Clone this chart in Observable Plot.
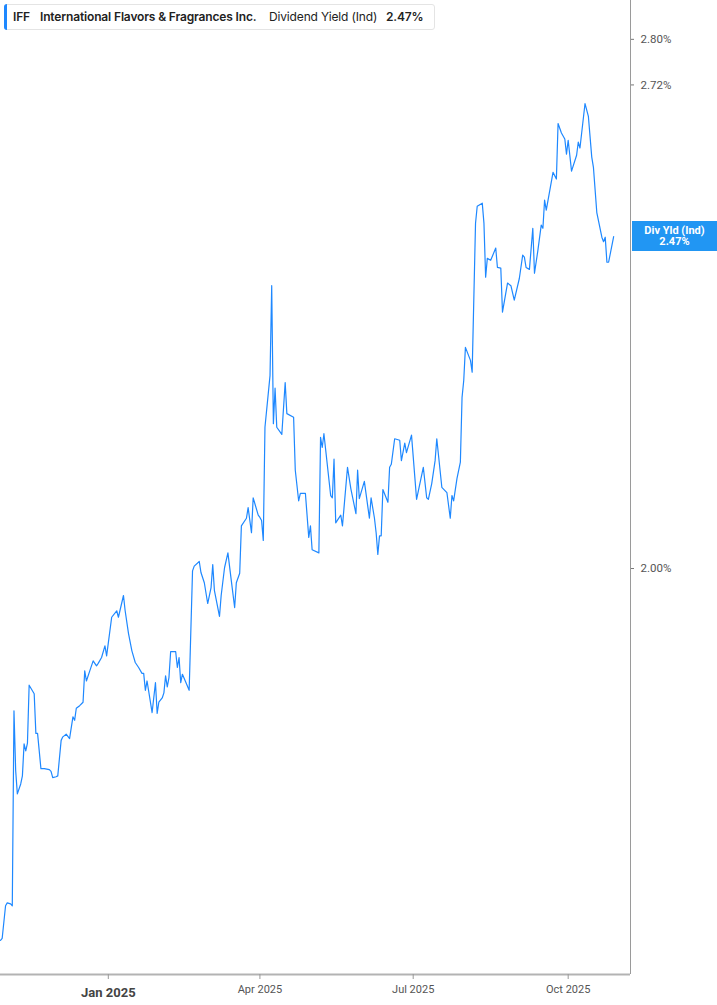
<!DOCTYPE html>
<html>
<head>
<meta charset="utf-8">
<script src="https://cdn.jsdelivr.net/npm/d3@7"></script>
<script src="https://cdn.jsdelivr.net/npm/@observablehq/plot@0.6"></script>
<style>
  html, body { margin: 0; padding: 0; background: #fff; }
  #wrap { position: relative; width: 717px; height: 1005px; overflow: hidden; }
  #title { position: absolute; left: 4px; top: 4px; width: 431px; height: 26px; background: #fff;
           border: 1px solid #e4e4e4; border-radius: 3px; box-sizing: border-box;
           font-family: Inter, "Noto Sans", sans-serif; font-size: 12px; color: #222; letter-spacing: -0.15px; }
  #title .bar { position: absolute; left: -1px; top: -1px; bottom: -1px; width: 3px; background: #1e88ff; border-radius: 3px 0 0 3px; }
  #title span.t { position: absolute; top: 5px; line-height: 14px; white-space: nowrap; }
  #tag { position: absolute; left: 632px; width: 85px; height: 30px; background: #2196f3; color: #fff;
         font-family: Roboto, "Noto Sans", sans-serif; font-weight: bold; font-size: 11px; line-height: 11px;
         text-align: center; box-sizing: border-box; padding-top: 4px; }
</style>
</head>
<body>
<div id="wrap"></div>
<script>
// ---- data ----
const dates = [
"2024-10-29","2024-10-30","2024-11-01","2024-11-02","2024-11-04","2024-11-05","2024-11-06","2024-11-07","2024-11-08","2024-11-10",
"2024-11-11","2024-11-12","2024-11-13","2024-11-14","2024-11-15","2024-11-18","2024-11-19","2024-11-20","2024-11-22","2024-11-24",
"2024-11-27","2024-11-28","2024-11-29","2024-12-01","2024-12-02","2024-12-04","2024-12-05","2024-12-07","2024-12-09","2024-12-11",
"2024-12-12","2024-12-13","2024-12-15","2024-12-17","2024-12-18","2024-12-19","2024-12-21","2024-12-23","2024-12-25","2024-12-26",
"2024-12-28","2024-12-30","2024-12-31","2025-01-03","2025-01-06","2025-01-07","2025-01-10","2025-01-11","2025-01-13","2025-01-15",
"2025-01-17","2025-01-19","2025-01-21","2025-01-22","2025-01-23","2025-01-24","2025-01-27","2025-01-29","2025-01-30","2025-01-31",
"2025-02-02","2025-02-03","2025-02-04","2025-02-05","2025-02-06","2025-02-07","2025-02-10","2025-02-11","2025-02-12","2025-02-13",
"2025-02-14","2025-02-18","2025-02-20","2025-02-21","2025-02-24","2025-02-25","2025-02-27","2025-03-01","2025-03-03","2025-03-04",
"2025-03-05","2025-03-08","2025-03-09","2025-03-11","2025-03-13","2025-03-15","2025-03-17","2025-03-18","2025-03-20","2025-03-21",
"2025-03-24","2025-03-25","2025-03-27","2025-03-28","2025-03-31","2025-04-01","2025-04-02","2025-04-03","2025-04-04","2025-04-07",
"2025-04-08","2025-04-09","2025-04-10","2025-04-11","2025-04-14","2025-04-16","2025-04-17","2025-04-21","2025-04-22","2025-04-24",
"2025-04-25","2025-04-28","2025-04-30","2025-05-01","2025-05-02","2025-05-06","2025-05-07","2025-05-08","2025-05-09","2025-05-13",
"2025-05-14","2025-05-15","2025-05-16","2025-05-19","2025-05-20","2025-05-23","2025-05-25","2025-05-28","2025-05-29","2025-05-30",
"2025-06-02","2025-06-05","2025-06-06","2025-06-08","2025-06-09","2025-06-10","2025-06-11","2025-06-12","2025-06-13","2025-06-16",
"2025-06-17","2025-06-18","2025-06-20","2025-06-23","2025-06-24","2025-06-26","2025-06-27","2025-06-30","2025-07-03","2025-07-07",
"2025-07-09","2025-07-10","2025-07-12","2025-07-14","2025-07-15","2025-07-18","2025-07-21","2025-07-23","2025-07-24","2025-07-25",
"2025-07-27","2025-07-29","2025-07-30","2025-07-31","2025-08-01","2025-08-04","2025-08-05","2025-08-07","2025-08-08","2025-08-11",
"2025-08-12","2025-08-13","2025-08-14","2025-08-16","2025-08-19","2025-08-20","2025-08-22","2025-08-23","2025-08-26","2025-08-28",
"2025-08-30","2025-09-02","2025-09-04","2025-09-05","2025-09-06","2025-09-08","2025-09-10","2025-09-11","2025-09-13","2025-09-15",
"2025-09-16","2025-09-17","2025-09-18","2025-09-22","2025-09-24","2025-09-25","2025-09-27","2025-09-29","2025-09-30","2025-10-01",
"2025-10-03","2025-10-06","2025-10-07","2025-10-08","2025-10-11","2025-10-13","2025-10-15","2025-10-16","2025-10-18","2025-10-21",
"2025-10-22","2025-10-23","2025-10-24","2025-10-25","2025-10-28"
];
const yields = [
1.579,1.581,1.614,1.617,1.616,1.614,1.827,1.759,1.733,1.744,
1.753,1.789,1.781,1.790,1.857,1.847,1.801,1.801,1.761,1.761,
1.760,1.758,1.751,1.752,1.753,1.793,1.797,1.800,1.795,1.820,
1.816,1.830,1.833,1.837,1.874,1.862,1.874,1.886,1.880,1.883,
1.890,1.904,1.892,1.939,1.947,1.939,1.966,1.947,1.919,1.898,
1.884,1.878,1.871,1.871,1.851,1.862,1.825,1.860,1.824,1.837,
1.842,1.848,1.868,1.855,1.866,1.897,1.897,1.878,1.890,1.860,
1.870,1.851,1.997,2.003,2.009,1.995,1.982,1.956,1.976,2.005,
1.972,1.940,1.966,2.001,2.020,1.985,1.951,1.982,1.994,2.055,
2.065,2.079,2.046,2.092,2.069,2.066,2.062,2.036,2.188,2.261,
2.394,2.193,2.243,2.188,2.178,2.251,2.207,2.202,2.129,2.088,
2.098,2.098,2.040,2.055,2.024,2.020,2.174,2.160,2.179,2.095,
2.092,2.144,2.059,2.069,2.055,2.133,2.104,2.071,2.129,2.091,
2.114,2.065,2.092,2.065,2.046,2.018,2.042,2.042,2.103,2.086,
2.133,2.137,2.172,2.170,2.142,2.166,2.153,2.177,2.090,2.133,
2.092,2.090,2.111,2.142,2.172,2.106,2.099,2.065,2.095,2.088,
2.118,2.140,2.230,2.254,2.302,2.283,2.266,2.491,2.518,2.523,
2.491,2.407,2.436,2.433,2.452,2.422,2.421,2.354,2.398,2.394,
2.372,2.405,2.441,2.438,2.422,2.419,2.483,2.413,2.448,2.488,
2.483,2.528,2.512,2.573,2.562,2.654,2.638,2.628,2.603,2.626,
2.575,2.601,2.623,2.613,2.688,2.666,2.598,2.581,2.508,2.469,
2.462,2.469,2.430,2.430,2.470
];
const xDomain = ["2024-10-29", "2025-11-07"];
const yDomain = [1.545, 2.870];
const yTicks = [2.00, 2.72, 2.80];
const xTickMajor = ["2025-01-01"];
const xTickMajorLabels = ["Jan 2025"];
const xTickMinor = ["2025-04-01", "2025-07-01", "2025-10-01"];
const xTickMinorLabels = ["Apr 2025", "Jul 2025", "Oct 2025"];
const ticker = "IFF";
const company = "International Flavors & Fragrances Inc.";
const metric = "Dividend Yield (Ind)";
const tagLabel = "Div Yld (Ind)";
const lastValueLabel = "2.47%";

// ---- chart ----
const data = dates.map((d, i) => ({ date: new Date(d), value: yields[i] }));
const xMax = new Date(xDomain[1]);
const majorDates = xTickMajor.map(d => new Date(d));
const minorDates = xTickMinor.map(d => new Date(d));

const chart = Plot.plot({
  width: 717,
  height: 1005,
  marginTop: 0,
  marginRight: 87,
  marginBottom: 31,
  marginLeft: 0,
  style: { fontFamily: "Roboto, 'Noto Sans', sans-serif", background: "#fff", overflow: "visible" },
  x: { type: "utc", domain: [new Date(xDomain[0]), xMax] },
  y: { type: "log", domain: yDomain },
  marks: [
    Plot.ruleY([yDomain[0]], { stroke: "#b3b3b3", strokeWidth: 2 }),
    Plot.ruleX([xMax], { stroke: "#9a9a9a", strokeWidth: 1 }),
    Plot.axisY({
      anchor: "right", ticks: yTicks, tickFormat: d => d.toFixed(2) + "%",
      tickSize: 3, tickPadding: 7, fontSize: 11.5, fill: "#555", stroke: "#777", label: null
    }),
    Plot.axisX({
      anchor: "bottom", ticks: majorDates,
      tickFormat: d => xTickMajorLabels[xTickMajor.indexOf(d.toISOString().slice(0, 10))],
      tickSize: 5, tickPadding: 8, fontSize: 13, fontWeight: "bold", fill: "#444", stroke: "#999", label: null
    }),
    Plot.axisX({
      anchor: "bottom", ticks: minorDates,
      tickFormat: d => xTickMinorLabels[xTickMinor.indexOf(d.toISOString().slice(0, 10))],
      tickSize: 5, tickPadding: 6, fontSize: 11, fill: "#555", stroke: "#999", label: null
    }),
    Plot.line(data, { x: "date", y: "value", stroke: "#1e88ff", strokeWidth: 1.2, curve: "linear" })
  ]
});

const wrap = document.getElementById("wrap");
wrap.appendChild(chart);

// title box
const title = document.createElement("div");
title.id = "title";
title.innerHTML = `<div class="bar"></div>
  <span class="t" style="left:8px;font-weight:600">${ticker}</span>
  <span class="t" style="left:35px;font-weight:600">${company.replace("&", "&amp;")}</span>
  <span class="t" style="left:264px;font-weight:400">${metric}</span>
  <span class="t" style="left:381px;font-weight:600">${lastValueLabel}</span>`;
wrap.appendChild(title);

// last value tag, placed with the chart's own y scale
const yScale = chart.scale("y");
const lastY = yScale.apply(yields[yields.length - 1]);
const tag = document.createElement("div");
tag.id = "tag";
tag.style.top = (lastY - 15) + "px";
tag.innerHTML = `${tagLabel}<br>${lastValueLabel}`;
wrap.appendChild(tag);
</script>
</body>
</html>
